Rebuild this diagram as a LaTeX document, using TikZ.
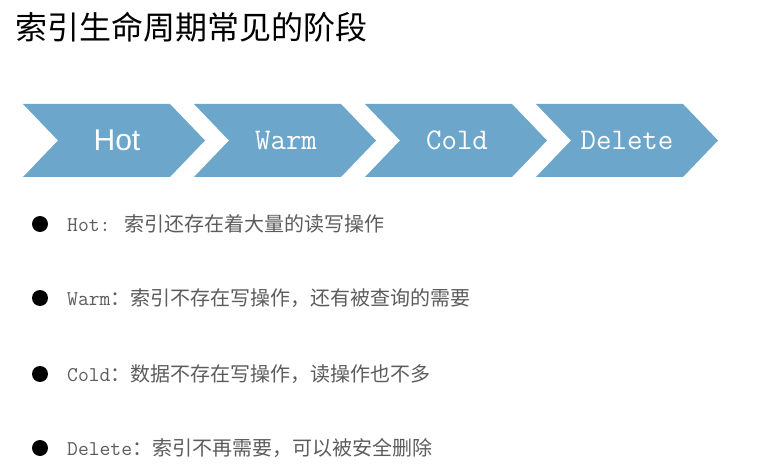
\documentclass[tikz,border=0pt]{standalone}
\usepackage{fontspec}
\newfontfamily\cjk{Noto Sans CJK SC}
\newfontfamily\arial{Liberation Sans}
\newcommand\itemzh{\cjk\fontsize{20}{20}\selectfont}
\definecolor{chevblue}{RGB}{108,166,203}
\definecolor{itemgray}{RGB}{92,92,92}
\tikzset{
  stagetext/.style={text=white,inner sep=0,font=\ttfamily\fontsize{30}{30}\selectfont},
  itemtext/.style={anchor=west,inner sep=0,text=itemgray,font=\ttfamily\fontsize{21}{21}\selectfont},
}
\begin{document}
\begin{tikzpicture}[x=1pt,y=-1pt]
  \useasboundingbox (0,0) rectangle (768,470);
  %%%%%%%%%%%%%The title%%%%%%%%%%%%%%%%%%%%%%
  \node[anchor=west,inner sep=0] (title) at (15,27) {\cjk\fontsize{32}{32}\selectfont 索引生命周期常见的阶段};

  %%%%%%%%%%%%%The stages%%%%%%%%%%%%%%%%%%%%%%
  \foreach \x in {23,194,365,536}
    \fill[chevblue] (\x,104) -- (\x+147,104) -- (\x+182,140.5) -- (\x+147,177)
      -- (\x,177) -- (\x+35,140.5) -- cycle;

  \node[stagetext,font=\arial\fontsize{30}{30}\selectfont] (hot) at (117,140) {Hot};
  \node[stagetext] (warm) at (286,140) {Warm};
  \node[stagetext] (cold) at (457,140) {Cold};
  \node[stagetext] (delete) at (627,140) {Delete};

  %%%%%%%%%%%%%The items%%%%%%%%%%%%%%%%%%%%%%
  \foreach \y in {224,298,374,448}
    \fill (40,\y) circle (8pt);

  \node[itemtext] (hotitem) at (67,224) {Hot: \itemzh 索引还存在着大量的读写操作};
  \node[itemtext] (warmitem) at (67,298) {Warm\itemzh ：索引不存在写操作，还有被查询的需要};
  \node[itemtext] (colditem) at (67,374) {Cold\itemzh ：数据不存在写操作，读操作也不多};
  \node[itemtext] (deleteitem) at (67,448) {Delete\itemzh ：索引不再需要，可以被安全删除};
\end{tikzpicture}
\end{document}
